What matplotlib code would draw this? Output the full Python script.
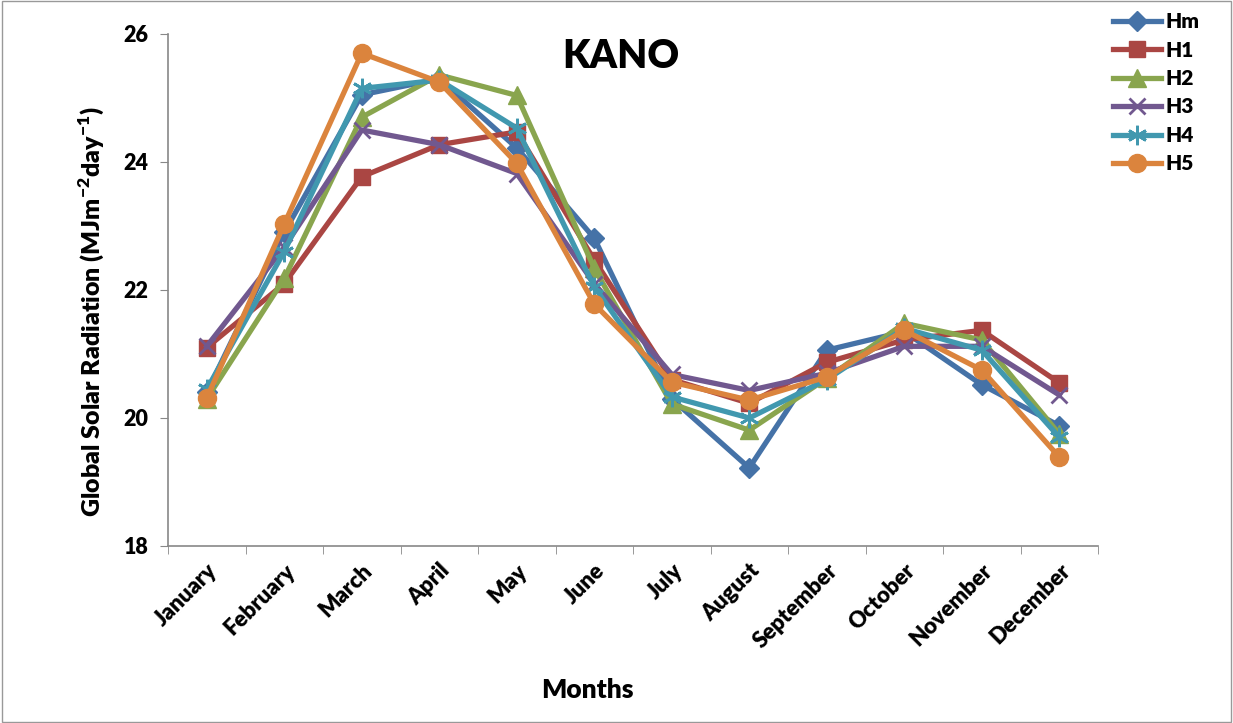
import matplotlib.pyplot as plt
import numpy as np

plt.rcParams['font.family'] = ['Lato', 'DejaVu Sans']
plt.rcParams['mathtext.fontset'] = 'custom'
plt.rcParams['mathtext.rm'] = 'Lato:heavy'
plt.rcParams['mathtext.bf'] = 'Lato:heavy'

months = ['January', 'February', 'March', 'April', 'May', 'June', 'July',
          'August', 'September', 'October', 'November', 'December']

hm = [20.40, 22.90, 25.05, 25.30, 24.22, 22.81, 20.30, 19.22, 21.06, 21.35, 20.52, 19.88]
h1 = [21.10, 22.10, 23.77, 24.27, 24.47, 22.47, 20.60, 20.23, 20.87, 21.22, 21.37, 20.55]
h2 = [20.30, 22.18, 24.70, 25.36, 25.04, 22.34, 20.22, 19.81, 20.62, 21.48, 21.22, 19.75]
h3 = [21.12, 22.67, 24.50, 24.27, 23.82, 22.10, 20.68, 20.43, 20.70, 21.12, 21.12, 20.36]
h4 = [20.45, 22.60, 25.15, 25.28, 24.53, 22.05, 20.33, 20.00, 20.60, 21.40, 21.06, 19.70]
h5 = [20.31, 23.03, 25.70, 25.25, 23.98, 21.78, 20.56, 20.28, 20.64, 21.37, 20.75, 19.39]

series = [('Hm', hm, '#4572A7', 'D', 10),
          ('H1', h1, '#AA4643', 's', 12),
          ('H2', h2, '#89A54E', '^', 13),
          ('H3', h3, '#71588F', 'x', 12),
          ('H4', h4, '#4198AF', (6, 2, 0), 14),
          ('H5', h5, '#DB843D', 'o', 13)]

fig = plt.figure(figsize=(12.33, 7.23), dpi=100)
ax = fig.add_axes([168 / 1233, 1 - 546 / 723, (1098 - 168) / 1233, (546 - 34) / 723])

x = np.arange(len(months))
for name, vals, col, mk, ms in series:
    ax.plot(x, vals, color=col, lw=3.8, marker=mk, markersize=ms,
            markeredgewidth=2 if mk in ('x', (6, 2, 0)) else 1,
            markeredgecolor=col, label=name)

ax.set_xlim(-0.5, 11.5)
ax.set_ylim(18, 26)
ax.set_yticks([18, 20, 22, 24, 26])
ax.set_xticks(x)
ax.set_xticklabels(months, rotation=45, ha='right', rotation_mode='anchor',
                   fontsize=16, fontweight='heavy')
ax.tick_params(axis='y', labelsize=15.5, direction='out', length=6, color='#888888', pad=8)
ax.set_xticks(np.arange(-0.5, 12, 1), minor=True)
ax.tick_params(axis='x', which='major', length=0, pad=10)
ax.tick_params(axis='x', which='minor', length=6, color='#888888')
for lab in ax.get_yticklabels():
    lab.set_fontweight('heavy')
for side in ['top', 'right']:
    ax.spines[side].set_visible(False)
for side in ['left', 'bottom']:
    ax.spines[side].set_color('#888888')
    ax.spines[side].set_linewidth(1.2)

fig.text(587 / 1233, 1 - 690 / 723, 'Months', ha='center', va='center',
         fontsize=19, fontweight='heavy')
fig.text(91 / 1233, 1 - 312 / 723,
         'Global Solar Radiation (MJm$^{\\mathbf{-2}}$day$^{\\mathbf{-1}}$)',
         rotation=90, ha='center', va='center', fontsize=18, fontweight='heavy')
fig.text(621 / 1233, 1 - 56 / 723, 'KANO', ha='center', va='center',
         fontsize=28, fontweight='heavy')

leg = fig.legend(loc='upper left', bbox_to_anchor=(1105 / 1233, 1 - 4 / 723),
                 frameon=False, prop={'weight': 'heavy', 'size': 15},
                 handlelength=2.3, labelspacing=0.45, handletextpad=0.2,
                 borderaxespad=0)

fig.patches.append(plt.Rectangle((0.002, 0.002), 0.996, 0.996, transform=fig.transFigure,
                                 fill=False, edgecolor='#999999', lw=1))

fig.savefig('out.png', dpi=100)
